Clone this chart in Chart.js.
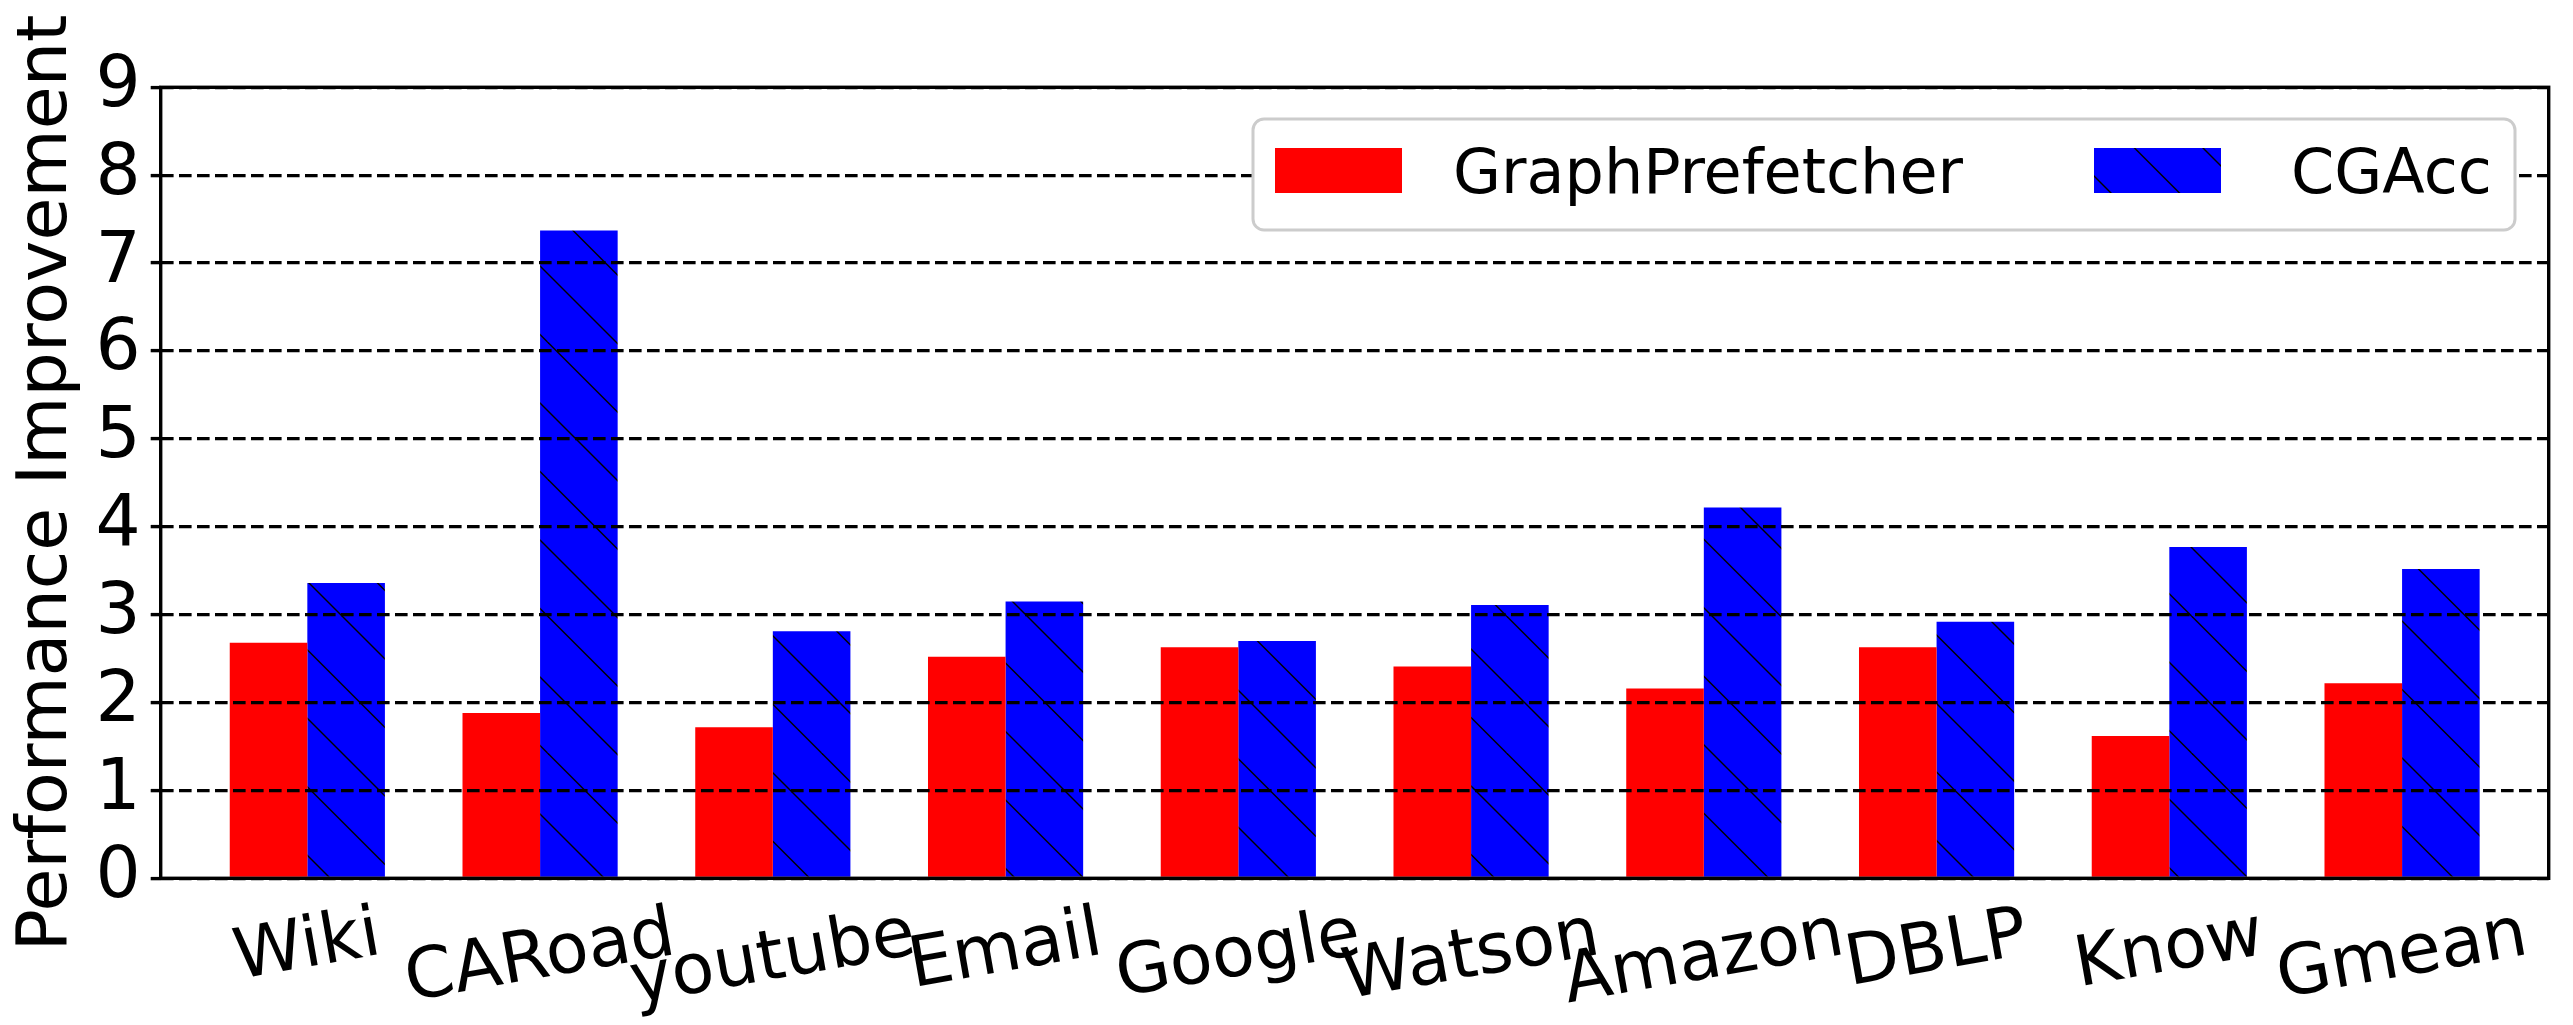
<!DOCTYPE html>
<html>
<head>
<meta charset="utf-8">
<title>Performance Improvement</title>
<script src="https://cdn.jsdelivr.net/npm/chart.js@4.4.1/dist/chart.umd.min.js"></script>
<style>
  html, body { margin: 0; padding: 0; background: #fff; }
  canvas { display: block; }
</style>
</head>
<body>
<canvas id="perfChart" width="2573" height="1025"></canvas>
<script>
const categories = ['Wiki', 'CARoad', 'youtube', 'Email', 'Google', 'Watson', 'Amazon', 'DBLP', 'Know', 'Gmean'];
const graphPrefetcher = [2.68, 1.88, 1.72, 2.52, 2.63, 2.41, 2.16, 2.63, 1.62, 2.22];
const cgacc = [3.36, 7.37, 2.81, 3.15, 2.70, 3.11, 4.22, 2.92, 3.77, 3.52];
const yTicks = [0, 1, 2, 3, 4, 5, 6, 7, 8, 9];
const seriesNames = ['GraphPrefetcher', 'CGAcc'];

const FONT = 'DejaVu Sans';
const canvas = document.getElementById('perfChart');
const ctx = canvas.getContext('2d');

// '\' hatch like matplotlib: 45 degree lines, 68.5px apart (tile holds two periods)
function makeHatch(color) {
  const size = 137;
  const c = document.createElement('canvas');
  c.width = size;
  c.height = size;
  const g = c.getContext('2d');
  g.fillStyle = color;
  g.fillRect(0, 0, size, size);
  g.strokeStyle = '#000';
  g.lineWidth = 1.4;
  for (let k = -2; k <= 2; k++) {
    const off = k * size / 2;
    g.beginPath();
    g.moveTo(-3, -3 + off);
    g.lineTo(size + 3, size + 3 + off);
    g.stroke();
  }
  return ctx.createPattern(c, 'repeat');
}

const blueHatch = makeHatch('#0000ff');

// rotated x labels, centred under the tick like matplotlib (ha=center, va=top)
const xLabelPlugin = {
  id: 'xLabels',
  afterDraw(chart) {
    const xs = chart.scales.x;
    const c = chart.ctx;
    const theta = 10 * Math.PI / 180;
    const top = chart.chartArea.bottom + 23;
    c.save();
    c.font = '70px "' + FONT + '"';
    c.fillStyle = '#000';
    const lp = c.measureText('lp');
    const asc = lp.actualBoundingBoxAscent;
    const desc = lp.actualBoundingBoxDescent;
    const h = asc + desc;
    categories.forEach((label, i) => {
      const w = c.measureText(label).width;
      const boxH = w * Math.sin(theta) + h * Math.cos(theta);
      const px = xs.getPixelForValue(i);
      c.save();
      c.translate(px, top + boxH / 2);
      c.rotate(-theta);
      c.textAlign = 'center';
      c.textBaseline = 'alphabetic';
      c.fillText(label, 0, (asc - desc) / 2);
      c.restore();
    });
    c.restore();
  }
};

// box around the axes plus the legend in the upper right
const framePlugin = {
  id: 'frameAndLegend',
  afterDraw(chart) {
    const a = chart.chartArea;
    const c = chart.ctx;
    c.save();
    c.strokeStyle = '#000';
    c.lineWidth = 3.4;
    c.strokeRect(a.left, a.top, a.right - a.left, a.bottom - a.top);

    // legend frame
    const lx = 1253, ly = 119, lw = 1262, lh = 111, r = 11;
    c.beginPath();
    c.moveTo(lx + r, ly);
    c.arcTo(lx + lw, ly, lx + lw, ly + lh, r);
    c.arcTo(lx + lw, ly + lh, lx, ly + lh, r);
    c.arcTo(lx, ly + lh, lx, ly, r);
    c.arcTo(lx, ly, lx + lw, ly, r);
    c.closePath();
    c.fillStyle = '#fff';
    c.fill();
    c.strokeStyle = '#cccccc';
    c.lineWidth = 3;
    c.stroke();

    const swatchX = [1275, 2094];
    const textX = [1453, 2291];
    c.font = '62px "' + FONT + '"';
    c.textBaseline = 'alphabetic';
    c.textAlign = 'left';
    chart.data.datasets.forEach((ds, i) => {
      c.fillStyle = ds.backgroundColor;
      c.fillRect(swatchX[i], 148, 127, 45);
      c.fillStyle = '#000';
      c.fillText(ds.label, textX[i], 193);
    });
    c.restore();
  }
};

new Chart(ctx, {
  type: 'bar',
  data: {
    datasets: [
      {
        label: seriesNames[0],
        data: graphPrefetcher.map((v, i) => ({ x: i, y: v })),
        backgroundColor: '#ff0000',
        borderWidth: 0
      },
      {
        label: seriesNames[1],
        data: cgacc.map((v, i) => ({ x: i, y: v })),
        backgroundColor: blueHatch,
        borderWidth: 0
      }
    ]
  },
  options: {
    responsive: false,
    devicePixelRatio: 1,
    animation: false,
    events: [],
    barPercentage: 1.0,
    categoryPercentage: 2 / 3,
    layout: { padding: { top: 87.3, right: 24.3, left: 0, bottom: 0 } },
    plugins: {
      legend: { display: false },
      tooltip: { enabled: false }
    },
    scales: {
      x: {
        type: 'linear',
        min: -0.63,
        max: 9.63,
        offset: false,
        grid: { display: false },
        border: { display: false },
        ticks: { display: false },
        afterBuildTicks: (scale) => {
          scale.ticks = categories.map((_, i) => ({ value: i }));
        },
        afterFit: (scale) => { scale.height = 146.7; }
      },
      y: {
        min: 0,
        max: 9,
        afterBuildTicks: (scale) => {
          scale.ticks = yTicks.map(v => ({ value: v }));
        },
        afterFit: (scale) => { scale.width = 160.7; },
        grid: {
          color: '#000',
          lineWidth: 3.2,
          z: 1,
          drawTicks: true,
          tickLength: 10,
          tickBorderDash: [],
          tickWidth: 3.4,
          borderDash: [12.6, 5.4]
        },
        border: { display: false, dash: [12.6, 5.4] },
        ticks: {
          color: '#000',
          padding: 10,
          autoSkip: false,
          font: { family: FONT, size: 71 }
        },
        title: {
          display: true,
          text: 'Performance Improvement',
          color: '#000',
          font: { family: FONT, size: 70 },
          padding: { top: 6, bottom: 0 }
        }
      }
    }
  },
  plugins: [xLabelPlugin, framePlugin]
});
</script>
</body>
</html>
